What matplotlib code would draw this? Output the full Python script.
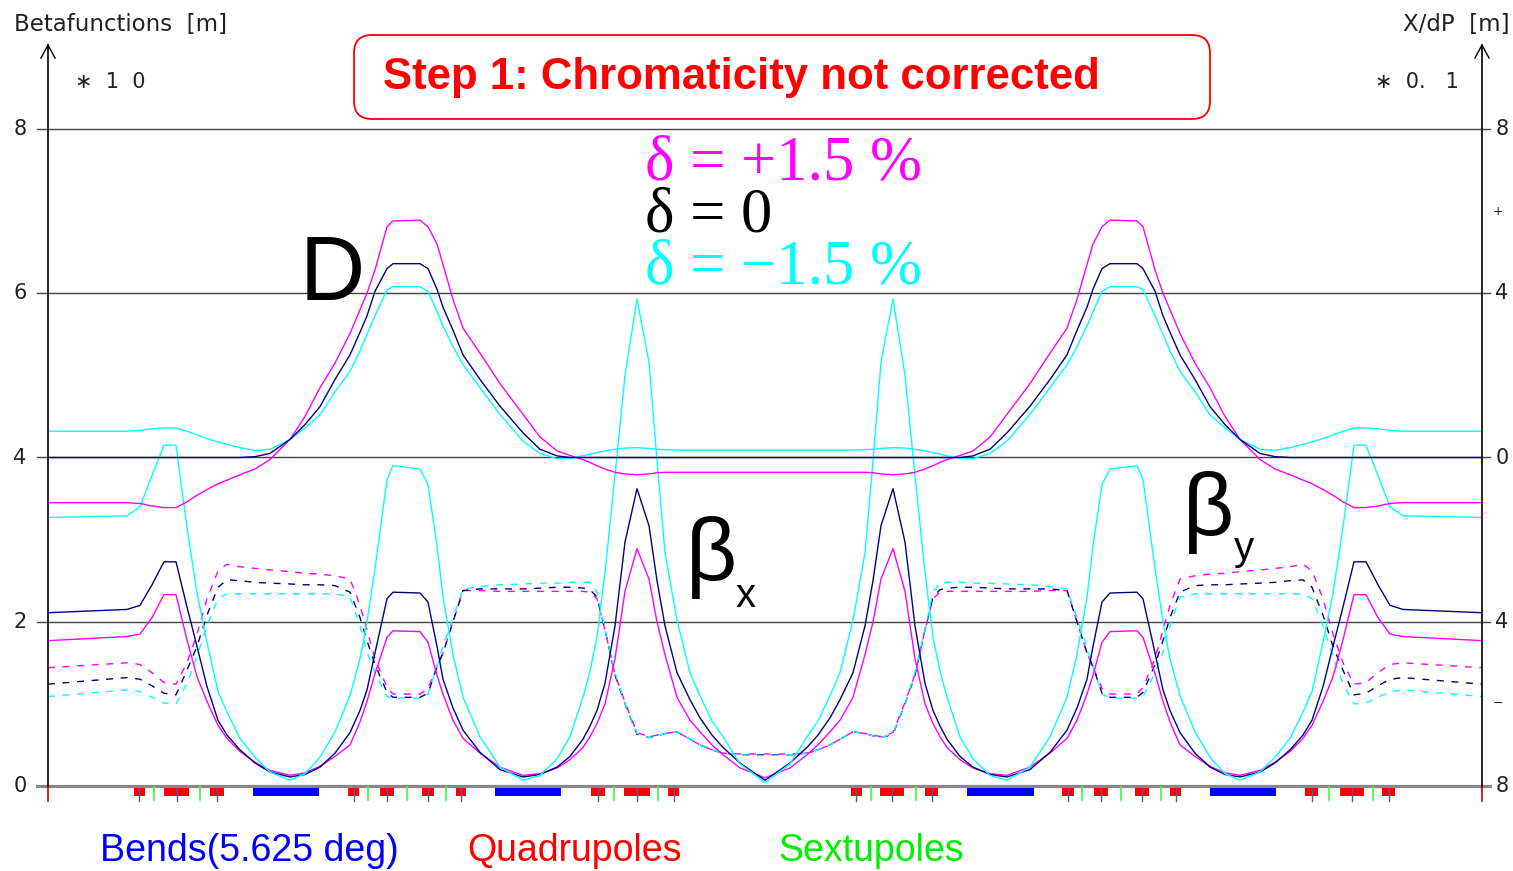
import matplotlib
matplotlib.use("Agg")
import matplotlib.pyplot as plt
from matplotlib.patches import FancyBboxPatch, Rectangle

# ---------------- data (s in m, betas in units of 10 m, dispersion in units of 0.1 m) -------------
s = [0.0, 7.9, 9.2, 10.4, 11.6, 12.8, 13.9, 14.9, 15.9, 17.0, 17.9, 19.2, 20.7, 22.2, 24.2, 25.7,
     27.2, 28.7, 30.2, 31.2, 31.9, 32.7, 33.9, 34.5, 37.2, 38.0, 38.9, 39.5, 40.5, 41.5, 43.2, 45.2,
     47.5, 49.2, 50.9, 52.2, 53.5, 54.2, 54.9, 55.7, 56.7, 57.7, 58.9, 60.1, 60.9, 61.7, 62.9, 64.2,
     65.2, 66.4, 67.5, 69.2, 71.7,
     74.2, 75.9, 77.0, 78.2, 79.2, 80.5, 81.7, 82.5, 83.3, 84.5, 85.7, 86.7, 87.7, 88.5, 89.2, 89.9,
     91.2, 92.5, 94.2, 95.9, 98.2, 100.2, 101.9, 102.9, 103.9, 104.5, 105.4, 106.2, 108.9, 109.5,
     110.7, 111.5, 112.2, 113.2, 114.7, 116.2, 117.7, 119.2, 121.2, 122.7, 124.2, 125.5, 126.4,
     127.5, 128.5, 129.5, 130.6, 131.8, 133.0, 134.2, 135.5, 143.4]

# beta_x for delta = 0, +1.5 %, -1.5 %
betx_0 = [2.11, 2.15, 2.20, 2.45, 2.73, 2.73, 2.18, 1.70, 1.21, 0.80, 0.62, 0.44, 0.28, 0.17, 0.11, 0.14,
          0.23, 0.40, 0.65, 0.92, 1.17, 1.62, 2.28, 2.36, 2.35, 2.24, 1.70, 1.30, 0.95, 0.68, 0.41, 0.20,
          0.11, 0.14, 0.23, 0.36, 0.57, 0.73, 0.92, 1.25, 1.95, 2.97, 3.62, 3.17, 2.50, 1.95, 1.38, 1.05,
          0.83, 0.62, 0.47, 0.28, 0.07,
          0.28, 0.47, 0.62, 0.83, 1.05, 1.38, 1.95, 2.50, 3.17, 3.62, 2.97, 1.95, 1.25, 0.92, 0.73, 0.57,
          0.36, 0.23, 0.14, 0.11, 0.20, 0.41, 0.68, 0.95, 1.30, 1.70, 2.24, 2.35, 2.36, 2.28, 1.62, 1.17,
          0.92, 0.65, 0.40, 0.23, 0.14, 0.11, 0.17, 0.28, 0.44, 0.62, 0.80, 1.21, 1.70, 2.18, 2.73, 2.73,
          2.45, 2.20, 2.15, 2.11]
betx_p = [1.77, 1.82, 1.85, 2.05, 2.33, 2.33, 1.78, 1.33, 1.03, 0.74, 0.58, 0.42, 0.29, 0.19, 0.13, 0.16,
          0.24, 0.36, 0.50, 0.78, 1.03, 1.37, 1.81, 1.89, 1.88, 1.75, 1.35, 1.12, 0.80, 0.58, 0.40, 0.23,
          0.13, 0.15, 0.22, 0.32, 0.47, 0.60, 0.76, 1.00, 1.55, 2.37, 2.89, 2.52, 2.00, 1.60, 1.08, 0.80,
          0.66, 0.50, 0.38, 0.22, 0.10,
          0.22, 0.38, 0.50, 0.66, 0.80, 1.08, 1.60, 2.00, 2.52, 2.89, 2.37, 1.55, 1.00, 0.76, 0.60, 0.47,
          0.32, 0.22, 0.15, 0.13, 0.23, 0.40, 0.58, 0.80, 1.12, 1.35, 1.75, 1.88, 1.89, 1.81, 1.37, 1.03,
          0.78, 0.50, 0.36, 0.24, 0.16, 0.13, 0.19, 0.29, 0.42, 0.58, 0.74, 1.03, 1.33, 1.78, 2.33, 2.33,
          2.05, 1.85, 1.82, 1.77]
betx_m = [3.27, 3.29, 3.40, 3.78, 4.15, 4.15, 3.15, 2.35, 1.75, 1.15, 0.90, 0.58, 0.35, 0.17, 0.07, 0.15,
          0.35, 0.66, 1.10, 1.55, 2.00, 2.65, 3.73, 3.90, 3.86, 3.67, 2.93, 2.30, 1.60, 1.08, 0.60, 0.23,
          0.07, 0.13, 0.33, 0.60, 1.08, 1.40, 1.81, 2.60, 3.78, 5.00, 5.93, 5.16, 3.96, 2.84, 2.02, 1.38,
          1.10, 0.79, 0.60, 0.27, 0.04,
          0.27, 0.60, 0.79, 1.10, 1.38, 2.02, 2.84, 3.96, 5.16, 5.93, 5.00, 3.78, 2.60, 1.81, 1.40, 1.08,
          0.60, 0.33, 0.13, 0.07, 0.23, 0.60, 1.08, 1.60, 2.30, 2.93, 3.67, 3.86, 3.90, 3.73, 2.65, 2.00,
          1.55, 1.10, 0.66, 0.35, 0.15, 0.07, 0.17, 0.35, 0.58, 0.90, 1.15, 1.75, 2.35, 3.15, 4.15, 4.15,
          3.78, 3.40, 3.29, 3.27]

# beta_y for delta = 0, +1.5 %, -1.5 %
bety_0 = [1.24, 1.32, 1.30, 1.22, 1.13, 1.11, 1.41, 1.70, 2.08, 2.42, 2.51, 2.50, 2.48, 2.47, 2.46, 2.45,
          2.45, 2.44, 2.36, 2.05, 1.77, 1.48, 1.14, 1.08, 1.08, 1.13, 1.45, 1.62, 2.00, 2.38, 2.40, 2.40,
          2.40, 2.41, 2.42, 2.42, 2.41, 2.39, 2.30, 1.90, 1.35, 1.00, 0.63, 0.59, 0.61, 0.64, 0.66, 0.57,
          0.50, 0.44, 0.40, 0.38, 0.38,
          0.38, 0.40, 0.44, 0.50, 0.57, 0.66, 0.64, 0.61, 0.59, 0.63, 1.00, 1.35, 1.90, 2.30, 2.39, 2.41,
          2.42, 2.42, 2.41, 2.40, 2.40, 2.40, 2.38, 2.00, 1.62, 1.45, 1.13, 1.08, 1.08, 1.14, 1.48, 1.77,
          2.05, 2.36, 2.44, 2.45, 2.45, 2.46, 2.47, 2.48, 2.50, 2.51, 2.42, 2.08, 1.70, 1.41, 1.11, 1.13,
          1.22, 1.30, 1.32, 1.24]
bety_p = [1.44, 1.50, 1.48, 1.38, 1.26, 1.24, 1.50, 1.85, 2.28, 2.62, 2.70, 2.67, 2.65, 2.63, 2.61, 2.59,
          2.58, 2.56, 2.52, 2.20, 1.90, 1.55, 1.20, 1.12, 1.12, 1.19, 1.45, 1.62, 2.00, 2.38, 2.38, 2.37,
          2.37, 2.37, 2.37, 2.37, 2.37, 2.36, 2.28, 1.90, 1.36, 1.02, 0.65, 0.60, 0.62, 0.64, 0.66, 0.57,
          0.50, 0.44, 0.40, 0.39, 0.39,
          0.39, 0.40, 0.44, 0.50, 0.57, 0.66, 0.64, 0.62, 0.60, 0.65, 1.02, 1.36, 1.90, 2.28, 2.36, 2.37,
          2.37, 2.37, 2.37, 2.37, 2.37, 2.38, 2.38, 2.00, 1.62, 1.45, 1.19, 1.12, 1.12, 1.20, 1.55, 1.90,
          2.20, 2.52, 2.56, 2.58, 2.59, 2.61, 2.63, 2.65, 2.67, 2.70, 2.62, 2.28, 1.85, 1.50, 1.24, 1.26,
          1.38, 1.48, 1.50, 1.44]
bety_m = [1.09, 1.17, 1.15, 1.08, 1.01, 1.00, 1.25, 1.58, 1.95, 2.28, 2.34, 2.34, 2.34, 2.34, 2.34, 2.34,
          2.34, 2.34, 2.30, 1.95, 1.63, 1.38, 1.09, 1.07, 1.07, 1.12, 1.45, 1.70, 2.05, 2.40, 2.43, 2.45,
          2.46, 2.47, 2.47, 2.48, 2.48, 2.48, 2.36, 1.90, 1.38, 1.00, 0.64, 0.59, 0.61, 0.64, 0.66, 0.57,
          0.50, 0.44, 0.40, 0.38, 0.37,
          0.38, 0.40, 0.44, 0.50, 0.57, 0.66, 0.64, 0.61, 0.59, 0.64, 1.00, 1.38, 1.90, 2.36, 2.48, 2.48,
          2.48, 2.47, 2.47, 2.46, 2.45, 2.43, 2.40, 2.05, 1.70, 1.45, 1.12, 1.07, 1.07, 1.09, 1.38, 1.63,
          1.95, 2.30, 2.34, 2.34, 2.34, 2.34, 2.34, 2.34, 2.34, 2.34, 2.28, 1.95, 1.58, 1.25, 1.00, 1.01,
          1.08, 1.15, 1.17, 1.09]

# horizontal dispersion (x 0.1 m) for delta = 0, +1.5 %, -1.5 %
disp_0 = [0, 0, 0, 0, 0, 0, 0, 0, 0, 0, 0, 0, 0.02, 0.10, 0.44, 0.80,
          1.24, 1.90, 2.50, 3.05, 3.45, 4.05, 4.60, 4.72, 4.72, 4.60, 4.10, 3.66, 3.10, 2.50, 1.90, 1.25,
          0.60, 0.20, 0.04, 0, 0, 0, 0, 0, 0, 0, 0, 0, 0, 0, 0, 0,
          0, 0, 0, 0, 0,
          0, 0, 0, 0, 0, 0, 0, 0, 0, 0, 0, 0, 0, 0, 0, 0,
          0, 0.04, 0.20, 0.60, 1.25, 1.90, 2.50, 3.10, 3.66, 4.10, 4.60, 4.72, 4.72, 4.60, 4.05, 3.45,
          3.05, 2.50, 1.90, 1.24, 0.80, 0.44, 0.10, 0.02, 0, 0, 0, 0, 0, 0, 0, 0,
          0, 0, 0, 0]
disp_p = [-1.10, -1.10, -1.12, -1.18, -1.22, -1.22, -1.08, -0.92, -0.78, -0.64, -0.55, -0.42, -0.28, -0.05,
          0.44, 1.00, 1.70, 2.30, 3.02, 3.60, 4.00, 4.57, 5.62, 5.76, 5.78, 5.62, 5.20, 4.70, 3.85, 3.15,
          2.54, 1.80, 1.05, 0.50, 0.16, 0.05, -0.05, -0.12, -0.20, -0.28, -0.36, -0.40, -0.42, -0.40,
          -0.37, -0.36, -0.36, -0.36, -0.36, -0.36, -0.36, -0.36, -0.36,
          -0.36, -0.36, -0.36, -0.36, -0.36, -0.36, -0.36, -0.37, -0.40, -0.42, -0.40, -0.36, -0.28,
          -0.20, -0.12, -0.05, 0.05, 0.16, 0.50, 1.05, 1.80, 2.54, 3.15, 3.85, 4.70, 5.20, 5.62, 5.78,
          5.76, 5.62, 4.57, 4.00, 3.60, 3.02, 2.30, 1.70, 1.00, 0.44, -0.05, -0.28, -0.42, -0.55, -0.64,
          -0.78, -0.92, -1.08, -1.22, -1.22, -1.18, -1.12, -1.10, -1.10]
disp_m = [0.64, 0.64, 0.66, 0.70, 0.72, 0.72, 0.64, 0.55, 0.46, 0.38, 0.32, 0.24, 0.17, 0.20, 0.44, 0.72,
          1.04, 1.60, 2.10, 2.60, 3.00, 3.45, 4.08, 4.16, 4.16, 4.04, 3.55, 3.20, 2.70, 2.26, 1.70, 1.05,
          0.40, 0.10, -0.03, -0.02, 0.04, 0.08, 0.12, 0.16, 0.20, 0.23, 0.24, 0.22, 0.20, 0.19, 0.18, 0.18,
          0.18, 0.18, 0.18, 0.18, 0.18,
          0.18, 0.18, 0.18, 0.18, 0.18, 0.18, 0.19, 0.20, 0.22, 0.24, 0.23, 0.20, 0.16, 0.12, 0.08, 0.04,
          -0.02, -0.03, 0.10, 0.40, 1.05, 1.70, 2.26, 2.70, 3.20, 3.55, 4.04, 4.16, 4.16, 4.08, 3.45, 3.00,
          2.60, 2.10, 1.60, 1.04, 0.72, 0.44, 0.20, 0.17, 0.24, 0.32, 0.38, 0.46, 0.55, 0.64, 0.72, 0.72,
          0.70, 0.66, 0.64, 0.64]

# lattice elements (start, end) in s
quads = [(8.6, 9.65), (11.6, 14.1), (16.2, 17.55), (30.0, 31.1), (33.2, 34.6), (37.4, 38.6),
         (40.8, 41.8), (54.3, 55.7), (57.6, 60.2), (62.0, 63.1), (80.3, 81.35), (83.2, 85.6),
         (87.7, 89.0), (101.4, 102.6), (104.6, 106.0), (108.7, 110.1), (112.2, 113.3),
         (125.7, 127.0), (129.2, 131.6), (133.4, 134.7)]
bends = [(20.5, 27.05), (44.7, 51.3), (91.9, 98.55), (116.15, 122.75)]
sextupoles = [10.6, 15.2, 32.0, 35.9, 39.8, 56.6, 61.0, 82.3, 86.75, 103.4, 107.3, 111.26, 128.1, 132.5]

left_ticks = ["0", "2", "4", "6", "8"]
left_tick_vals = [0, 2, 4, 6, 8]
right_ticks = ["8", "+", "4", "0", "4", "\u2212", "8"]
right_tick_vals = [8, 6, 4, 0, -4, -6, -8]

# ---------------- figure -------------
W, H = 1513, 871
fig = plt.figure(figsize=(W / 100, H / 100), dpi=100)
fig.patch.set_facecolor("white")

L0 = 143.4
ax = fig.add_axes([48 / W, (H - 786) / H, 1434 / W, 657 / H])
ax.set_xlim(0, L0)
ax.set_ylim(0, 8)
ax.axis("off")
ax2 = ax.twinx()
ax2.set_ylim(-8, 8)
ax2.set_xlim(0, L0)
ax2.axis("off")

NAVY, MAG, CYAN = "#000080", "#ff00ff", "#00ffff"

# grid lines
for v in [2, 4, 6, 8]:
    ax.plot([-1.1, L0 + 0.8], [v, v], color="#404040", lw=1.0, clip_on=False, zorder=1)
ax.plot([-1.1, L0 + 0.8], [0, 0], color="#888888", lw=2.3, clip_on=False, zorder=1)

lw = 1.0
# beta_y (dashed)
for y, c in [(bety_p, MAG), (bety_0, NAVY), (bety_m, CYAN)]:
    ax.plot(s, y, color=c, lw=lw, ls=(0, (5, 5.5)), zorder=3)
# beta_x (solid)
for y, c in [(betx_p, MAG), (betx_0, NAVY), (betx_m, CYAN)]:
    ax.plot(s, y, color=c, lw=lw, zorder=3)
# dispersion (right axis)
for y, c in [(disp_p, MAG), (disp_m, CYAN), (disp_0, NAVY)]:
    ax2.plot(s, y, color=c, lw=lw, zorder=3)

# element bar
axe = fig.add_axes([48 / W, (H - 803) / H, 1434 / W, 17 / H])
axe.set_xlim(0, L0)
axe.set_ylim(803, 786)
axe.axis("off")
for a, b in bends:
    axe.add_patch(Rectangle((a, 788), b - a, 8, color="#0000ff", lw=0))
for a, b in quads:
    axe.add_patch(Rectangle((a, 788), b - a, 8, color="#ff0000", lw=0))
    c = 0.5 * (a + b)
    axe.plot([c, c], [788, 801], color="#5555b5", lw=1.0)
for x in sextupoles:
    axe.plot([x, x], [787, 800], color="#33ff33", lw=1.2)

# overlay in pixel coordinates
ov = fig.add_axes([0, 0, 1, 1])
ov.set_xlim(0, W)
ov.set_ylim(H, 0)
ov.axis("off")

# vertical axes with arrows
for xa in [48, 1482]:
    ov.plot([xa, xa], [45, 787], color="black", lw=1.2)
    ov.plot([xa, xa], [787, 801], color="#cc0000", lw=1.2)
    ov.plot([xa - 7, xa, xa + 7], [58, 45, 58], color="black", lw=1.0)

axfont = dict(family="DejaVu Sans", color="#222222")
# left tick labels
for lab, v in zip(left_ticks, left_tick_vals):
    py = 786 - v * 82.125
    ov.text(20, py, lab, ha="center", va="center", fontsize=15, **axfont)
# right tick labels
for lab, v in zip(right_ticks, right_tick_vals):
    py = 457.5 - v * 41.06
    small = lab in ["+", "\u2212"]
    ov.text(1502 if not small else 1498, py, lab, ha="center", va="center",
            fontsize=9 if small else 15, **axfont)

ov.text(14, 24, "Betafunctions  [m]", ha="left", va="center", fontsize=16.5, **axfont)
ov.text(75, 82, "\u2217  1  0", ha="left", va="center", fontsize=15, **axfont)
ov.text(1510, 24, "X/dP  [m]", ha="right", va="center", fontsize=16.5, **axfont)
ov.text(1375, 82, "\u2217  0.   1", ha="left", va="center", fontsize=15, **axfont)

# title box
ov.add_patch(FancyBboxPatch((354, 35), 856, 84, boxstyle="round,pad=0,rounding_size=18",
                            fc="white", ec="#ff0000", lw=1.3))
ov.text(383, 77, "Step 1: Chromaticity not corrected", ha="left", va="center",
        fontsize=31.5, fontweight="bold", color="#ff0000", family="Liberation Sans")

# delta labels
serif = dict(family="Liberation Serif", fontsize=45, ha="left", va="center")
ov.text(645, 164, "\u03b4 = +1.5 %", color=MAG, **serif)
ov.text(645, 216, "\u03b4 = 0", color="black", **serif)
ov.text(645, 268, "\u03b4 = \u22121.5 %", color=CYAN, **serif)

# curve labels
ov.text(300, 300, "D", ha="left", va="baseline", fontsize=65, family="Liberation Sans", color="black")
ov.text(686, 581, "\u03b2", ha="left", va="baseline", fontsize=64, family="Liberation Sans", color="black")
ov.text(736, 607, "x", ha="left", va="baseline", fontsize=29, family="Liberation Sans", color="black")
ov.text(1183, 536, "\u03b2", ha="left", va="baseline", fontsize=64, family="Liberation Sans", color="black")
ov.text(1234, 560, "y", ha="left", va="baseline", fontsize=29, family="Liberation Sans", color="black")

# element legend
ov.text(100, 851, "Bends(5.625 deg)", ha="left", va="center", fontsize=27, color="#0000ff", family="Liberation Sans")
ov.text(467, 851, "Quadrupoles", ha="left", va="center", fontsize=27, color="#ff0000", family="Liberation Sans")
ov.text(778, 851, "Sextupoles", ha="left", va="center", fontsize=27, color="#00ee00", family="Liberation Sans")

fig.savefig("out.png", dpi=100)
